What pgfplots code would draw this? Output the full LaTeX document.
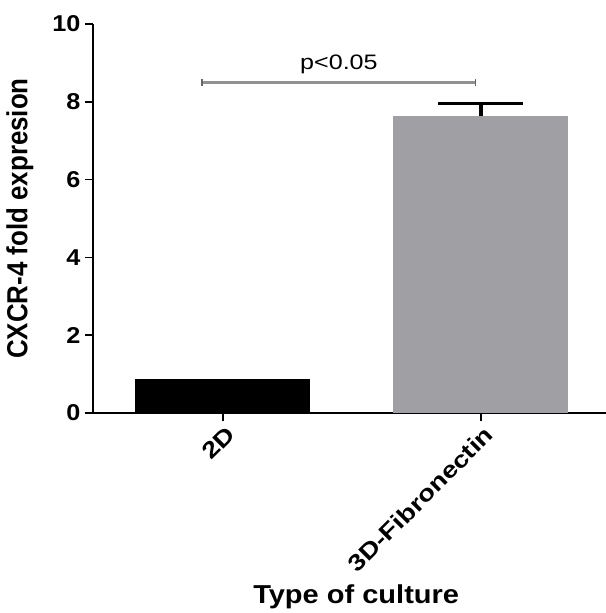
\documentclass[border=0pt]{standalone}
\usepackage{fontspec}
\setmainfont{Liberation Sans}
\newfontfamily\tickfont{Liberation Sans}[FakeStretch=1.2]
\newfontfamily\ytickfont{Liberation Sans}[FakeStretch=1.1]
\newfontfamily\labfont{Liberation Sans}[FakeStretch=1.12]
\usepackage{graphicx}
\usepackage{pgfplots}
\pgfplotsset{compat=1.18}
\definecolor{bargray}{RGB}{160,160,164}
\definecolor{linegray}{RGB}{145,145,145}
\begin{document}
\begin{tikzpicture}
\path[use as bounding box] (-93bp,-200bp) rectangle (513bp,413bp);
\begin{axis}[
  at={(0,0)}, anchor=south west,
  scale only axis, width=513bp, height=389bp,
  xmin=-0.503, xmax=1.485, ymin=0, ymax=10,
  axis x line*=bottom, axis y line*=left,
  axis line style={line width=2bp, black},
  tick align=outside, major tick length=8bp,
  tick style={line width=1.6bp, black},
  ytick={0,2,4,6,8,10},
  xtick={0,1}, xticklabels={2D,3D-Fibronectin},
  /pgf/number format/assume math mode=true,
  y tick label style={font=\ytickfont\fontsize{23}{23}\selectfont\bfseries, xshift=-1bp},
  x tick label style={font=\tickfont\fontsize{23}{23}\selectfont\bfseries,
     rotate=45, anchor=north east, inner sep=1bp, yshift=-3bp},
  every axis y label/.style={at={(rel axis cs:0,0.5)}, xshift=-73bp, rotate=90, anchor=center,
     font=\fontsize{26}{26}\selectfont\bfseries},
  every axis x label/.style={at={(rel axis cs:0.513,0)}, yshift=-184bp, anchor=center,
     font=\labfont\fontsize{26}{26}\selectfont\bfseries},
  ylabel={\scalebox{1}[1.12]{CXCR-4 fold expresion}},
  xlabel={Type of culture},
  clip=false,
]
\addplot[ybar, bar shift=0pt, bar width=175bp, fill=black, draw=none] coordinates {(0,0.88)};
\addplot[ybar, bar shift=0pt, bar width=175bp, fill=bargray, draw=none,
  error bars/.cd, y dir=plus, y explicit,
  error bar style={line width=3.5bp, black},
  error mark options={rotate=90, mark size=42.5bp, line width=3.5bp, black}]
  coordinates {(1,7.63) +- (0,0.33)};
\addplot[linegray, line width=3bp, mark=|, mark size=3.5bp, mark options={line width=1.5bp, black!60}]
  coordinates {(-0.08,8.49) (0.98,8.49)};
\node[font=\tickfont\fontsize{21}{21}\selectfont] at (axis cs:0.45,8.95) {p<0.05};
\end{axis}
\end{tikzpicture}
\end{document}
